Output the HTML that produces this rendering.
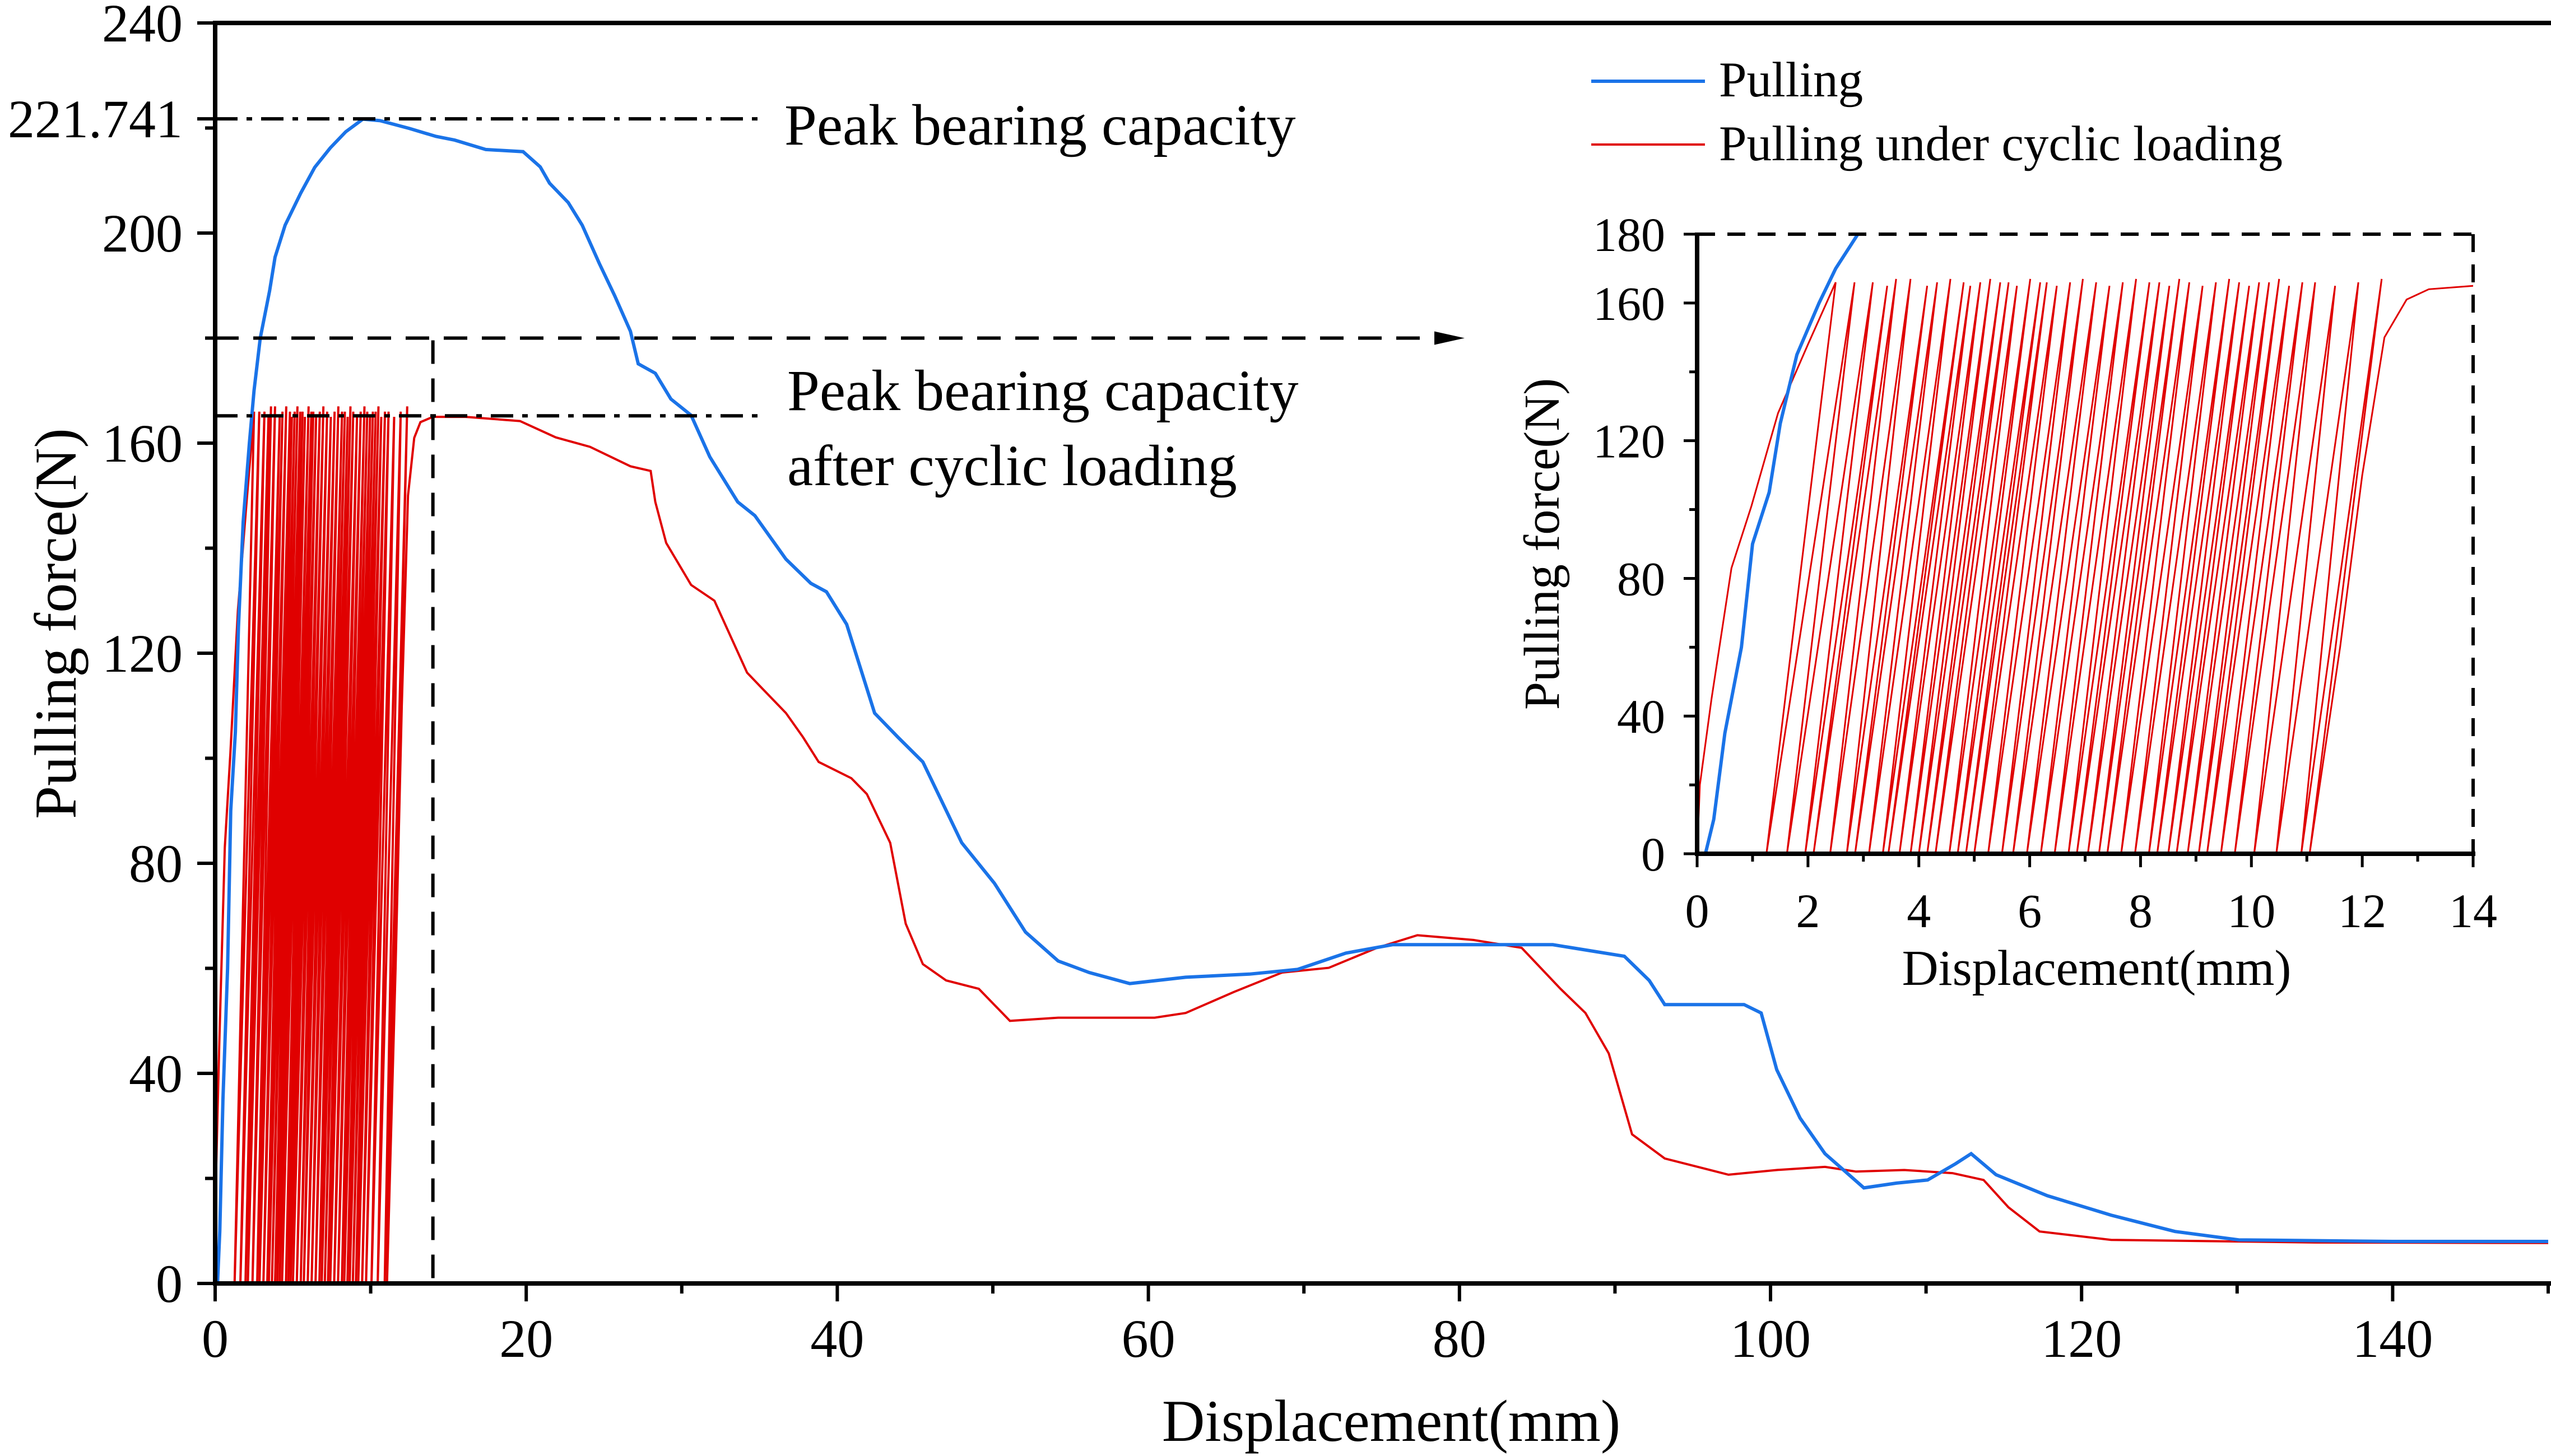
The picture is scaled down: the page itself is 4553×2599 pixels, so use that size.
<!DOCTYPE html>
<html><head><meta charset="utf-8"><style>
html,body{margin:0;padding:0;background:#fff}
svg{display:block}
text{font-family:"Liberation Serif","Times New Roman",serif;fill:#000}
</style></head>
<body>
<svg id="chart" xmlns="http://www.w3.org/2000/svg" width="4553" height="2599" viewBox="0 0 4553 2599">
<defs>
<clipPath id="mainClip"><rect x="384" y="41" width="4169" height="2250"/></clipPath>
<clipPath id="insetClip"><rect x="3029" y="418" width="1385" height="1106"/></clipPath>
</defs>
<g id="main"></g>
<g id="inset"></g>
</svg>
<script>
// ---- data ----
const blueX = [0,0.15,0.3,0.5,0.8,1.0,1.3,1.5,1.8,2.2,2.5,2.9,3.5,3.85,4.5,5.5,6.4,7.4,8.4,9.5,10.6,12.5,14.2,15.4,17.4,19.8,20.9,21.5,22.7,23.6,24.7,25.7,26.7,27.2,28.3,29.3,30.6,31.8,33.6,34.7,36.7,38.3,39.3,40.6,42.4,43.9,45.5,48,50.1,52.1,54.2,56.2,58.8,62.4,66.5,69.6,72.7,75.7,81.9,86,90.6,92.2,93.2,98.3,99.4,100.4,101.9,103.5,106,108.1,110.1,111.9,112.9,114.5,117.8,121.9,126,130.1,140,150];
const blueY = [0,0,10,35,60,90,105,125,145,160,170,180,189,195.4,201.5,207.6,212.5,216.2,219.3,221.7,221.4,219.9,218.4,217.7,215.9,215.5,212.6,209.5,205.8,201.5,194.2,188,181.3,175.1,173.3,168.4,165.3,157.4,148.8,146.2,137.9,133.3,131.7,125.5,108.6,104,99.3,83.9,76.2,66.9,61.4,59.2,57.1,58.3,58.9,59.8,62.9,64.5,64.5,64.5,62.3,57.7,53.1,53.1,51.5,40.7,31.5,24.7,18.2,19.1,19.7,22.8,24.7,20.7,16.7,13,9.9,8.3,8,8];
const redInitX = [0,0.05,0.26,0.62,0.98,1.46,2.0,2.5];
const redInitY = [0,20,45,83,101,128,148,166];
const cyclePeakX = [2.84,3.17,3.43,3.59,3.85,4.15,4.33,4.57,4.81,4.93,5.11,5.29,5.47,5.62,5.77,6.01,6.19,6.31,6.49,6.73,6.96,7.20,7.44,7.68,7.92,8.16,8.34,8.52,8.70,8.88,9.12,9.36,9.60,9.78,9.96,10.14,10.32,10.50,10.68,10.92,11.15,11.51,11.93,12.35];
const cyclePeakY = [166,166,165,167,167,165,166,167,166,165,166,167,166,166,165,167,166,166,165,166,167,166,165,166,167,166,166,165,167,166,165,166,167,166,165,166,166,167,165,166,166,165,166,167];
const cycleBottomX = [1.25,1.62,1.95,2.10,2.40,2.70,2.85,3.10,3.35,3.45,3.65,3.85,4.00,4.15,4.30,4.55,4.70,4.85,5.00,5.25,5.50,5.70,5.95,6.20,6.45,6.70,6.85,7.05,7.25,7.40,7.65,7.90,8.15,8.30,8.50,8.65,8.85,9.05,9.20,9.45,9.70,10.05,10.45,10.90,11.05];
const redTailX = [11.6,12.0,12.4,12.8,13.2,14,16.1,19.6,21.9,24.1,26.7,28,28.3,29,30.6,32.1,34.2,35.2,36.7,37.8,38.8,40.9,41.9,43.4,44.4,45.5,47,49.1,51.1,54.2,60.4,62.4,65.5,68.6,71.6,74.7,77.3,80.9,84,86.5,88.1,89.6,91.1,93.2,97.3,100.4,103.5,105.5,108.6,111.7,113.7,115.3,117.3,121.9,135,150];
const redTailY = [60,110,150,161,164,165,165,164.2,161.1,159.3,155.6,154.7,148.8,141,133,130,116.3,113.2,108.6,104,99.3,96.2,93.2,83.9,68.5,60.8,57.7,56.1,50,50.6,50.6,51.5,55.5,59.2,60.1,63.9,66.3,65.4,63.9,56.1,51.5,43.8,28.4,23.8,20.7,21.6,22.2,21.3,21.6,21,19.7,14.5,9.9,8.3,7.8,7.7];
const mainXTicks = [0,20,40,60,80,100,120,140];
const mainYTicks = [0,40,80,120,160,200,240];
const insetXTicks = [0,2,4,6,8,10,12,14];
const insetYTicks = [0,40,80,120,160,180];
const peakValue = 221.741;
const cyclicPeakValue = 165.2;

// ---- scales ----
const M = {x0:384, x1:384+150*27.76, y0:2291, y1:41, xmax:150, ymax:240};
const I = {x0:3029, x1:4414, y0:1524, y1:418, xmax:14, ymax:180};
const sx = (S,v)=> S.x0 + v/S.xmax*(S.x1-S.x0);
const sy = (S,v)=> S.y0 - v/S.ymax*(S.y0-S.y1);
const NS = 'http://www.w3.org/2000/svg';
function mk(parent, tag, attrs){const e=document.createElementNS(NS,tag);for(const k in attrs)e.setAttribute(k,attrs[k]);parent.appendChild(e);return e;}

function redSeries(){
  const xs=[], ys=[];
  for(let i=0;i<redInitX.length;i++){xs.push(redInitX[i]);ys.push(redInitY[i]);}
  for(let i=0;i<cycleBottomX.length;i++){
    xs.push(cycleBottomX[i]);ys.push(0);
    if(i<cyclePeakX.length){xs.push(cyclePeakX[i]);ys.push(cyclePeakY[i]);}
  }
  for(let i=0;i<redTailX.length;i++){xs.push(redTailX[i]);ys.push(redTailY[i]);}
  return [xs,ys];
}
function pathD(S,xs,ys){let d='';for(let i=0;i<xs.length;i++){d+=(i?'L':'M')+sx(S,xs[i]).toFixed(1)+','+sy(S,ys[i]).toFixed(1);}return d;}

const mainG = document.getElementById('main');
const insetG = document.getElementById('inset');
const [rX,rY] = redSeries();

// ---- main series ----
const mRed = mk(mainG,'path',{d:pathD(M,rX,rY),fill:'none',stroke:'#e00000','stroke-width':4,'clip-path':'url(#mainClip)'});


const mBlue = mk(mainG,'path',{d:pathD(M,blueX,blueY),fill:'none',stroke:'#1a73e8','stroke-width':6,'clip-path':'url(#mainClip)'});



// ---- reference lines ----
const pk = mk(mainG,'line',{x1:M.x0,x2:1357,y1:sy(M,peakValue),y2:sy(M,peakValue),stroke:'#000','stroke-width':6,'stroke-dasharray':'40 16 10 16'});


const pk2 = mk(mainG,'line',{x1:M.x0,x2:1357,y1:sy(M,cyclicPeakValue),y2:sy(M,cyclicPeakValue),stroke:'#000','stroke-width':6,'stroke-dasharray':'40 16 10 16'});


const zh = mk(mainG,'line',{x1:M.x0,x2:2570,y1:sy(M,180),y2:sy(M,180),stroke:'#000','stroke-width':6,'stroke-dasharray':'42 26'});


const ar = mk(mainG,'polygon',{points:`2614,${sy(M,180)} 2560,${sy(M,180)-12} 2560,${sy(M,180)+12}`,fill:'#000'});


const zv = mk(mainG,'line',{x1:sx(M,14),x2:sx(M,14),y1:sy(M,180)+4,y2:M.y0,stroke:'#000','stroke-width':6,'stroke-dasharray':'42 26'});



// ---- main axes ----
function axisLine(g,x1,y1,x2,y2,w,name){const l=mk(g,'line',{x1,y1,x2,y2,stroke:'#000','stroke-width':w});return l;}
axisLine(mainG,M.x0-4,M.y0,4553,M.y0,8,'x-axis');
axisLine(mainG,M.x0,M.y1-4,M.x0,M.y0+4,8,'y-axis');
axisLine(mainG,M.x0-4,M.y1,4553,M.y1,8,'top-frame');
for(let v=0;v<=150;v+=10){
  const major = mainXTicks.includes(v);
  axisLine(mainG,sx(M,v),M.y0,sx(M,v),M.y0+(major?32:18),6,'x-tick');
}
for(let i=0;i<mainXTicks.length;i++){
  const t=mk(mainG,'text',{x:sx(M,mainXTicks[i]),y:2422,'font-size':96,'text-anchor':'middle'});
  t.textContent=mainXTicks[i];
  
  
}
for(let v=0;v<=240;v+=20){
  const major = mainYTicks.includes(v);
  axisLine(mainG,M.x0,sy(M,v),M.x0-(major?32:18),sy(M,v),6,'y-tick');
}
axisLine(mainG,M.x0,sy(M,peakValue),M.x0-32,sy(M,peakValue),6,'y-tick-peak');
for(let i=0;i<mainYTicks.length;i++){
  const t=mk(mainG,'text',{x:326,y:sy(M,mainYTicks[i])+33,'font-size':96,'text-anchor':'end'});
  t.textContent=mainYTicks[i];
  
  
}
const pl=mk(mainG,'text',{x:326,y:sy(M,peakValue)+33,'font-size':96,'text-anchor':'end'});
pl.textContent=String(peakValue);


</script>
<script>
(function(){
const svg=document.getElementById('chart');
function T(x,y,size,txt,name,anchor,rot){const t=document.createElementNS('http://www.w3.org/2000/svg','text');t.setAttribute('x',x);t.setAttribute('y',y);t.setAttribute('font-size',size);if(anchor)t.setAttribute('text-anchor',anchor);if(rot)t.setAttribute('transform',rot);t.textContent=txt;svg.appendChild(t);return t;}
let t;
t=T(2483,2572,106,'Displacement(mm)','x-axis-title','middle');

t=T(0,0,106,'Pulling force(N)','y-axis-title','middle','translate(135,1113) rotate(-90)');

t=T(1400,258,104,'Peak bearing capacity','peak-annotation');

t=T(1405,732,104,'Peak bearing capacity','cyclic-peak-annotation');

t=T(1405,866,104,'after cyclic loading','cyclic-peak-annotation-2');

// legend
const ns='http://www.w3.org/2000/svg';
let l=document.createElementNS(ns,'line');l.setAttribute('x1',2840);l.setAttribute('x2',3043);l.setAttribute('y1',145);l.setAttribute('y2',145);l.setAttribute('stroke','#1a73e8');l.setAttribute('stroke-width',6);svg.appendChild(l);

t=T(3068,172,89,'Pulling');

l=document.createElementNS(ns,'line');l.setAttribute('x1',2840);l.setAttribute('x2',3043);l.setAttribute('y1',258);l.setAttribute('y2',258);l.setAttribute('stroke','#e00000');l.setAttribute('stroke-width',4);svg.appendChild(l);

t=T(3068,286,89,'Pulling under cyclic loading');

})();
</script>
<script>
// ---- inset ----
(function(){
const g=insetG;
const r = mk(g,'path',{d:pathD(I,rX,rY),fill:'none',stroke:'#e00000','stroke-width':3,'clip-path':'url(#insetClip)'});


const b = mk(g,'path',{d:pathD(I,blueX,blueY),fill:'none',stroke:'#1a73e8','stroke-width':6,'clip-path':'url(#insetClip)'});


let d=mk(g,'line',{x1:I.x0,x2:I.x1,y1:I.y1,y2:I.y1,stroke:'#000','stroke-width':6,'stroke-dasharray':'32 22'});

d=mk(g,'line',{x1:I.x1,x2:I.x1,y1:I.y1,y2:I.y0,stroke:'#000','stroke-width':6,'stroke-dasharray':'32 22'});

axisLine(g,I.x0-4,I.y0,I.x1+4,I.y0,8,'inset-x-axis');
axisLine(g,I.x0,I.y1-3,I.x0,I.y0+4,8,'inset-y-axis');
for(let v=0;v<=14;v+=1){const major=insetXTicks.includes(v);axisLine(g,sx(I,v),I.y0,sx(I,v),I.y0+(major?24:14),5,'inset-x-tick');}
for(let v=0;v<=180;v+=20){const major=insetYTicks.includes(v);axisLine(g,I.x0,sy(I,v),I.x0-(major?24:14),sy(I,v),5,'inset-y-tick');}
for(let i=0;i<insetXTicks.length;i++){
  const t=mk(g,'text',{x:sx(I,insetXTicks[i]),y:1655,'font-size':86,'text-anchor':'middle'});
  t.textContent=insetXTicks[i];
  
  
}
for(let i=0;i<insetYTicks.length;i++){
  const t=mk(g,'text',{x:2972,y:sy(I,insetYTicks[i])+30,'font-size':86,'text-anchor':'end'});
  t.textContent=insetYTicks[i];
  
  
}
let t=mk(g,'text',{x:3742,y:1758,'font-size':90,'text-anchor':'middle'});
t.textContent='Displacement(mm)';


t=mk(g,'text',{x:0,y:0,'font-size':90,'text-anchor':'middle',transform:'translate(2782,971) rotate(-90)'});
t.textContent='Pulling force(N)';


})();
</script>
</body></html>
